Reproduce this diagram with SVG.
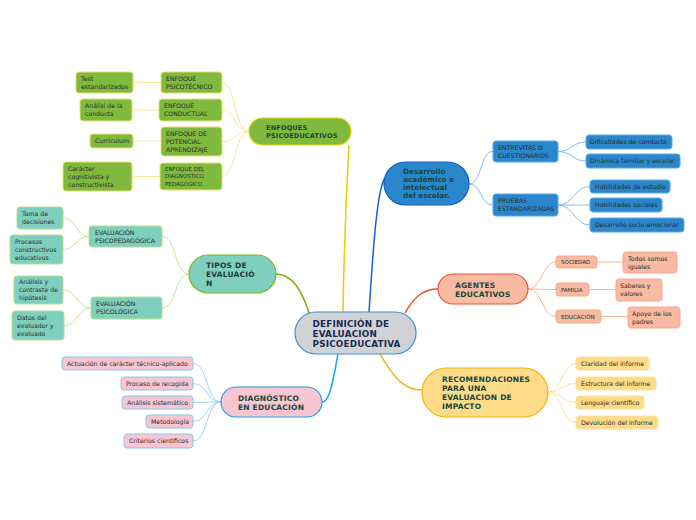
<svg xmlns="http://www.w3.org/2000/svg" width="696" height="520" viewBox="0 0 696 520">
<style>
text{font-family:"DejaVu Sans","Liberation Sans",sans-serif;fill:#2a2a2a;font-size:6.2px}
.mt{font-weight:bold;font-size:7.5px;fill:#16463a;letter-spacing:0.2px}
.ct{font-weight:bold;font-size:8.8px;fill:#1b2a55;letter-spacing:0.2px}
.sm{font-size:5.6px}
.c path{fill:none}
.gr{fill:#7fba3f}
.te{fill:#7fcfbf}
.pk{fill:#f7c6d2}
.bl{fill:#2b87cc}
.sa{fill:#f8baa2}
.ye{fill:#fddb88}
.s1{stroke:#e8e070;stroke-width:1}
.s2{stroke:#b5e08a;stroke-width:1}
.s3{stroke:#86c8ef;stroke-width:1}
.s4{stroke:#5aaae6;stroke-width:1}
.s5{stroke:#f8a888;stroke-width:1}
.s6{stroke:#fde0a0;stroke-width:1}
</style>
<g id="connectors" class="c">
<path d="M343 312 C344 250 347 180 349 145" stroke="#e8cc00" stroke-width="1.5"/>
<path d="M369 312 C372 270 376 190 385 178" stroke="#1464d2" stroke-width="1.5"/>
<path d="M405 313 C415 295 425 289 438 289" stroke="#f0521e" stroke-width="1.5"/>
<path d="M380 354 C395 380 405 390 422 390" stroke="#f5b000" stroke-width="1.5"/>
<path d="M338 354 C333 380 330 402 322 402" stroke="#18a8e8" stroke-width="1.5"/>
<path d="M310 316 C302 290 292 274 276 274" stroke="#7cae10" stroke-width="1.5"/>
<g stroke="#f5ea98" stroke-width="1">
<path d="M133 82.5 H161"/><path d="M132 110 H159"/><path d="M133 141 H161"/><path d="M132 176.5 H160"/>
<path d="M222 82.5 C236 82.5 234 131.5 249 131.5"/>
<path d="M222 110 C236 110 234 131.5 249 131.5"/>
<path d="M222 141.5 C236 141.5 234 131.5 249 131.5"/>
<path d="M222 176.5 C236 176.5 234 131.5 249 131.5"/>
</g>
<g stroke="#c6e69c" stroke-width="1">
<path d="M189 274 C174 274 177 236.5 162 236.5"/>
<path d="M189 274 C174 274 177 308 162 308"/>
<path d="M89 236.5 C76 236.5 76 218 63 218"/>
<path d="M89 236.5 C76 236.5 76 249.5 63 249.5"/>
<path d="M91 308 C77 308 77 290 63 290"/>
<path d="M91 308 C77 308 78 325.5 64 325.5"/>
</g>
<g stroke="#9ad4f2" stroke-width="1">
<path d="M193 363.5 C208 363.5 206 402 221 402"/>
<path d="M193 383.5 C208 383.5 206 402 221 402"/>
<path d="M193 402.5 C208 402.5 206 402 221 402"/>
<path d="M193 421.5 C208 421.5 206 402 221 402"/>
<path d="M193 441 C208 441 206 402 221 402"/>
</g>
<g stroke="#8cb8f0" stroke-width="1">
<path d="M469 184 C482 184 480 151.5 493 151.5"/>
<path d="M469 184 C482 184 480 205 493 205"/>
<path d="M558 151.5 C572 151.5 572 142 586 142"/>
<path d="M558 151.5 C572 151.5 572 161 586 161"/>
<path d="M558 205 C574 205 574 186.5 590 186.5"/>
<path d="M558 205 H590"/>
<path d="M558 205 C574 205 574 225 590 225"/>
</g>
<g stroke="#f8b498" stroke-width="1">
<path d="M528 289 C542 289 542 262 556 262"/>
<path d="M528 289 C542 289 542 289.5 556 289.5"/>
<path d="M528 289 C542 289 542 316.5 556 316.5"/>
<path d="M597 262 H623"/><path d="M589 289.5 H616"/><path d="M601 316.5 H628"/>
</g>
<g stroke="#fde2a0" stroke-width="1">
<path d="M548 392 C562 392 562 363.5 576 363.5"/>
<path d="M548 392 C562 392 562 383.5 576 383.5"/>
<path d="M548 392 C562 392 562 402.5 576 402.5"/>
<path d="M548 392 C562 392 562 422.5 576 422.5"/>
</g>
</g>

<g id="center"><rect x="295" y="312" width="121" height="42" rx="21" fill="#d0d2d5" stroke="#3a8fd4" stroke-width="1.2"/>
<text class="ct" x="312.5" y="326.5">DEFINICIÓN DE</text><text class="ct" x="312.5" y="336.5">EVALUACION</text><text class="ct" x="312.5" y="347">PSICOEDUCATIVA</text></g>

<g id="enfoques"><rect x="249" y="118" width="102" height="27" rx="13.5" class="gr" stroke="#e6d400" stroke-width="1.2"/>
<text class="mt" x="266" y="130" style="font-size:6.5px">ENFOQUES</text><text class="mt" x="266" y="138" style="font-size:6.5px">PSICOEDUCATIVOS</text></g>
<g id="enf1"><rect x="161" y="72" width="61" height="21" rx="3" class="gr s1"/><text x="166" y="80.7">ENFOQUE</text><text x="166" y="88.7">PSICOTÉCNICO</text></g>
<g id="enf2"><rect x="159" y="99" width="63" height="22" rx="3" class="gr s1"/><text x="164" y="108.2">ENFOQUE</text><text x="164" y="116.2">CONDUCTUAL</text></g>
<g id="enf3"><rect x="161" y="127" width="61" height="29" rx="3" class="gr s1"/><text x="166" y="135.5">ENFOQUE DE</text><text x="166" y="143.5">POTENCIAL</text><text x="166" y="151.5">APRENDIZAJE</text></g>
<g id="enf4"><rect x="160" y="163" width="62" height="27" rx="3" class="gr s1"/><text x="165" y="171" style="font-size:5.5px">ENFOQUE DEL</text><text x="165" y="178.3" style="font-size:5.5px">DIAGNÓSTICO</text><text x="165" y="185.6" style="font-size:5.5px">PEDAGÓGICO</text></g>
<g id="enf1a"><rect x="76" y="72" width="57" height="21" rx="3" class="gr s1"/><text x="81" y="80.7">Test</text><text x="81" y="88.7">estandarizados</text></g>
<g id="enf2a"><rect x="80" y="99" width="52" height="22" rx="3" class="gr s1"/><text x="85" y="108.2">Análisi de la</text><text x="85" y="116.2">conducta</text></g>
<g id="enf3a"><rect x="90" y="134" width="43" height="14" rx="3" class="gr s1"/><text x="95" y="143.2">Currículum</text></g>
<g id="enf4a"><rect x="63" y="162" width="69" height="29" rx="3" class="gr s1"/><text x="68" y="170.7">Carácter</text><text x="68" y="178.7">cognitivista y</text><text x="68" y="186.7">constructivista</text></g>

<g id="tipos"><rect x="189" y="255" width="87" height="38" rx="19" class="te" stroke="#7cb518" stroke-width="1.2"/>
<text class="mt" x="206" y="268" style="fill:#1a3a38">TIPOS DE</text><text class="mt" x="206" y="277" style="fill:#1a3a38">EVALUACIÓ</text><text class="mt" x="206" y="286" style="fill:#1a3a38">N</text></g>
<g id="tip1"><rect x="89" y="226" width="73" height="21" rx="3" class="te s2"/><text x="95" y="234.7">EVALUACIÓN</text><text x="95" y="242.7">PSICOPEDAGÓGICA</text></g>
<g id="tip2"><rect x="91" y="297" width="71" height="22" rx="3" class="te s2"/><text x="96" y="306.2">EVALUACIÓN</text><text x="96" y="314.2">PSICOLÓGICA</text></g>
<g id="tip1a"><rect x="17" y="207" width="46" height="22" rx="3" class="te s2"/><text x="22" y="216.2">Toma de</text><text x="22" y="224.2">decisiones</text></g>
<g id="tip1b"><rect x="10" y="235" width="53" height="29" rx="3" class="te s2"/><text x="15" y="243.7">Procesos</text><text x="15" y="251.7">constructivos</text><text x="15" y="259.7">educativos</text></g>
<g id="tip2a"><rect x="14" y="276" width="49" height="28" rx="3" class="te s2"/><text x="19" y="284.2">Análisis y</text><text x="19" y="292.2">contraste de</text><text x="19" y="300.2">hipótesis</text></g>
<g id="tip2b"><rect x="12" y="311" width="52" height="29" rx="3" class="te s2"/><text x="17" y="319.7">Datos del</text><text x="17" y="327.7">evaluador y</text><text x="17" y="335.7">evaluado</text></g>

<g id="diag"><rect x="221" y="387" width="101" height="30" rx="15" class="pk" stroke="#1ea0e6" stroke-width="1.2"/>
<text class="mt" x="238" y="401">DIAGNÓSTICO</text><text class="mt" x="238" y="410">EN EDUCACIÓN</text></g>
<g id="dg1"><rect x="62" y="357" width="131" height="13" rx="3" class="pk s3"/><text x="67" y="365.7">Actuación de carácter técnico-aplicado</text></g>
<g id="dg2"><rect x="121" y="377" width="72" height="13" rx="3" class="pk s3"/><text x="126" y="385.7">Proceso de recogida</text></g>
<g id="dg3"><rect x="122" y="396" width="71" height="13" rx="3" class="pk s3"/><text x="127" y="404.7">Análisis sistemático</text></g>
<g id="dg4"><rect x="146" y="415" width="47" height="13" rx="3" class="pk s3"/><text x="151" y="423.7">Metodología</text></g>
<g id="dg5"><rect x="124" y="434" width="69" height="14" rx="3" class="pk s3"/><text x="129" y="443.2">Criterios científicos</text></g>

<g id="desarrollo"><rect x="384" y="162" width="85" height="43" rx="21.5" class="bl" stroke="#0f5fce" stroke-width="1.2"/>
<text class="mt" x="403" y="173.5" style="font-size:7.3px;letter-spacing:0">Desarrollo</text><text class="mt" x="403" y="181.5" style="font-size:7.3px;letter-spacing:0">académico e</text><text class="mt" x="403" y="189.5" style="font-size:7.3px;letter-spacing:0">intelectual</text><text class="mt" x="403" y="197.5" style="font-size:7.3px;letter-spacing:0">del escolar.</text></g>
<g id="ds1"><rect x="493" y="141" width="65" height="21" rx="3" class="bl s4"/><text x="498" y="149.7">ENTREVITAS O</text><text x="498" y="157.7">CUESTIONARIOS</text></g>
<g id="ds2"><rect x="493" y="194" width="65" height="22" rx="3" class="bl s4"/><text x="498" y="203.2">PRUEBAS</text><text x="498" y="211.2">ESTANDARIZADAS</text></g>
<g id="ds1a"><rect x="586" y="135" width="86" height="14" rx="3" class="bl s4"/><text x="590" y="144.2">Dificultades de conducta</text></g>
<g id="ds1b"><rect x="586" y="154" width="94" height="14" rx="3" class="bl s4"/><text x="590" y="163.2">Dinámica familiar y escolar</text></g>
<g id="ds2a"><rect x="590" y="180" width="80" height="13" rx="3" class="bl s4"/><text x="595" y="188.7">Habilidades de estudio</text></g>
<g id="ds2b"><rect x="590" y="198" width="72" height="14" rx="3" class="bl s4"/><text x="595" y="207.2">Habilidades sociales</text></g>
<g id="ds2c"><rect x="590" y="218" width="94" height="14" rx="3" class="bl s4"/><text x="595" y="227.2">Desarrollo socio-emocional</text></g>

<g id="agentes"><rect x="438" y="274" width="90" height="30" rx="15" class="sa" stroke="#f2552a" stroke-width="1.2"/>
<text class="mt" x="455" y="287.5">AGENTES</text><text class="mt" x="455" y="296.5">EDUCATIVOS</text></g>
<g id="ag1"><rect x="556" y="256" width="41" height="12" rx="3" class="sa s5"/><text class="sm" x="561" y="264">SOCIEDAD</text></g>
<g id="ag2"><rect x="556" y="283" width="33" height="13" rx="3" class="sa s5"/><text class="sm" x="561" y="291.5">FAMILIA</text></g>
<g id="ag3"><rect x="556" y="310" width="45" height="13" rx="3" class="sa s5"/><text class="sm" x="561" y="318.5">EDUCACIÓN</text></g>
<g id="ag1a"><rect x="623" y="252" width="54" height="21" rx="3" class="sa s5"/><text x="628" y="260.7">Todos somos</text><text x="628" y="268.7">iguales</text></g>
<g id="ag2a"><rect x="616" y="279" width="46" height="22" rx="3" class="sa s5"/><text x="620" y="288.2">Saberes y</text><text x="620" y="296.2">valores</text></g>
<g id="ag3a"><rect x="628" y="307" width="52" height="21" rx="3" class="sa s5"/><text x="632" y="315.7">Apoyo de los</text><text x="632" y="323.7">padres</text></g>

<g id="recom"><rect x="422" y="368" width="126" height="49" rx="24.5" class="ye" stroke="#f5b40a" stroke-width="1.2"/>
<text class="mt" x="442" y="382">RECOMENDACIONES</text><text class="mt" x="442" y="391">PARA UNA</text><text class="mt" x="442" y="400">EVALUACION DE</text><text class="mt" x="442" y="409">IMPACTO</text></g>
<g id="rc1"><rect x="576" y="357" width="73" height="13" rx="3" class="ye s6"/><text x="581" y="365.7">Claridad del informe</text></g>
<g id="rc2"><rect x="576" y="377" width="80" height="13" rx="3" class="ye s6"/><text x="581" y="385.7">Estructura del informe</text></g>
<g id="rc3"><rect x="576" y="396" width="68" height="13" rx="3" class="ye s6"/><text x="581" y="404.7">Lenguaje científico</text></g>
<g id="rc4"><rect x="576" y="416" width="82" height="13" rx="3" class="ye s6"/><text x="581" y="424.7">Devolución del informe</text></g>
</svg>
